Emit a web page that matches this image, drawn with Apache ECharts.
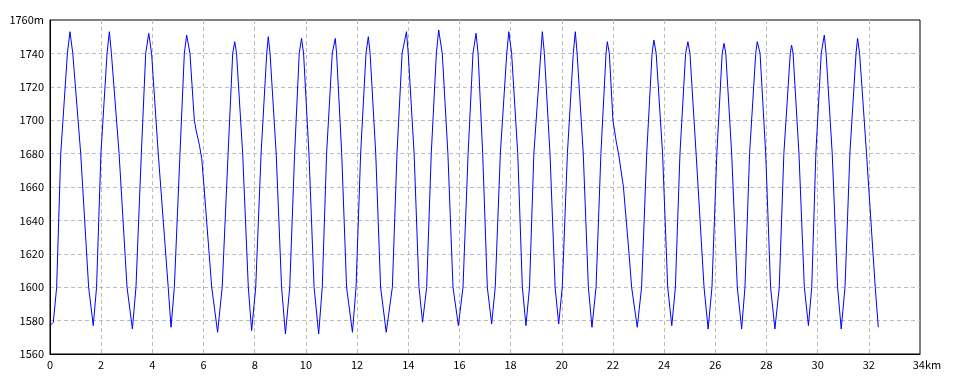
<!DOCTYPE html>
<html><head><meta charset="utf-8">
<script src="https://cdn.jsdelivr.net/npm/echarts@6/dist/echarts.min.js"></script>
<style>html,body{margin:0;padding:0;background:#fff}#c{width:960px;height:384px}</style>
</head><body><div id="c"></div>
<script>
// distance along route (km)
const distKm = [
  0, 0.05, 0.13, 0.26, 0.42, 0.68, 0.78, 0.89, 1.20, 1.51, 1.69,
  1.82, 1.99, 2.23, 2.32, 2.40, 2.70, 3.01, 3.22,
  3.36, 3.57, 3.74, 3.86, 3.97, 4.23, 4.62, 4.73,
  4.86, 5.08, 5.25, 5.34, 5.47, 5.64, 5.71, 5.84, 5.93, 6.02, 6.32, 6.55,
  6.73, 6.96, 7.14, 7.22, 7.29, 7.53, 7.75, 7.88,
  8.04, 8.25, 8.47, 8.53, 8.60, 8.84, 9.05, 9.20,
  9.37, 9.56, 9.74, 9.83, 9.91, 10.12, 10.32, 10.50,
  10.64, 10.81, 11.03, 11.15, 11.20, 11.40, 11.59, 11.82,
  11.96, 12.14, 12.35, 12.44, 12.51, 12.73, 12.92, 13.14,
  13.38, 13.56, 13.76, 13.93, 14.00, 14.23, 14.42, 14.56,
  14.72, 14.90, 15.10, 15.19, 15.33, 15.55, 15.75, 15.96,
  16.14, 16.34, 16.53, 16.65, 16.73, 16.91, 17.09, 17.26,
  17.40, 17.60, 17.85, 17.93, 18.04, 18.28, 18.46, 18.60,
  18.74, 18.91, 19.18, 19.24, 19.32, 19.54, 19.74, 19.88,
  20.02, 20.22, 20.45, 20.53, 20.60, 20.84, 21.04, 21.18,
  21.34, 21.53, 21.73, 21.78, 21.86, 22.00, 22.13, 22.22, 22.41, 22.63, 22.73, 22.95,
  23.12, 23.32, 23.53, 23.60, 23.69, 23.94, 24.14, 24.30,
  24.44, 24.62, 24.84, 24.93, 25.01, 25.25, 25.56, 25.72,
  25.87, 26.06, 26.27, 26.34, 26.41, 26.64, 26.86, 27.03,
  27.16, 27.34, 27.58, 27.64, 27.75, 27.97, 28.16, 28.33,
  28.50, 28.68, 28.93, 28.98, 29.04, 29.27, 29.48, 29.64,
  29.77, 29.93, 30.14, 30.26, 30.33, 30.57, 30.78, 30.92,
  31.07, 31.26, 31.50, 31.56, 31.64, 31.91, 32.25, 32.37];
// elevation (m)
const elevM = [
  1577, 1576, 1579, 1600, 1680, 1740, 1753, 1740, 1680, 1600, 1577,
  1600, 1680, 1740, 1753, 1740, 1680, 1600, 1575,
  1600, 1680, 1740, 1752, 1740, 1680, 1600, 1576,
  1600, 1680, 1740, 1751, 1740, 1700, 1694, 1685, 1677, 1660, 1600, 1573,
  1600, 1680, 1740, 1747, 1740, 1680, 1600, 1574,
  1600, 1680, 1740, 1750, 1740, 1680, 1600, 1572,
  1600, 1680, 1740, 1749, 1740, 1680, 1600, 1572,
  1600, 1680, 1740, 1749, 1740, 1680, 1600, 1573,
  1600, 1680, 1740, 1750, 1740, 1680, 1600, 1573,
  1600, 1680, 1740, 1753, 1740, 1680, 1600, 1579,
  1600, 1680, 1740, 1754, 1740, 1680, 1600, 1577,
  1600, 1680, 1740, 1752, 1740, 1680, 1600, 1578,
  1600, 1680, 1740, 1753, 1740, 1680, 1600, 1577,
  1600, 1680, 1740, 1753, 1740, 1680, 1600, 1578,
  1600, 1680, 1740, 1753, 1740, 1680, 1600, 1576,
  1600, 1680, 1740, 1747, 1740, 1700, 1687, 1680, 1660, 1620, 1600, 1576,
  1600, 1680, 1740, 1748, 1740, 1680, 1600, 1577,
  1600, 1680, 1740, 1747, 1740, 1680, 1600, 1575,
  1600, 1680, 1740, 1746, 1740, 1680, 1600, 1575,
  1600, 1680, 1740, 1747, 1740, 1680, 1600, 1575,
  1600, 1680, 1740, 1745, 1740, 1680, 1600, 1577,
  1600, 1680, 1740, 1751, 1740, 1680, 1600, 1575,
  1600, 1680, 1740, 1749, 1740, 1680, 1600, 1576];
const xTicks = [0, 2, 4, 6, 8, 10, 12, 14, 16, 18, 20, 22, 24, 26, 28, 30, 32, 34];
const yTicks = [1560, 1580, 1600, 1620, 1640, 1660, 1680, 1700, 1720, 1740, 1760];

const points = distKm.map((d, i) => [d, elevM[i]]);
const font = '"Noto Sans CJK JP", "DejaVu Sans", sans-serif';
const xMin = xTicks[0], xMax = xTicks[xTicks.length - 1];
const yMin = yTicks[0], yMax = yTicks[yTicks.length - 1];
const dash = {color: '#bbb', type: [4, 3], width: 1};
const chart = echarts.init(document.getElementById('c'), null, {renderer: 'canvas'});
chart.setOption({
  animation: false,
  backgroundColor: '#fff',
  grid: {left: 50, right: 40, top: 20, bottom: 30, show: true, borderColor: '#000', borderWidth: 1, backgroundColor: 'transparent'},
  xAxis: {
    type: 'value', min: xMin, max: xMax, interval: 2,
    axisLine: {show: true, onZero: false, lineStyle: {color: '#000', width: 1}},
    axisTick: {show: false},
    splitLine: {show: true, showMinLine: false, showMaxLine: false, lineStyle: dash},
    axisLabel: {
      color: '#000', fontFamily: font, fontSize: 11, margin: 5,
      formatter: v => v === 34 ? '{p|}34km' : String(v),
      rich: {p: {width: 14}}
    }
  },
  yAxis: {
    type: 'value', min: yMin, max: yMax, interval: 20,
    axisLine: {show: true, onZero: false, lineStyle: {color: '#000', width: 1}},
    axisTick: {show: false},
    splitLine: {show: true, showMinLine: false, showMaxLine: false, lineStyle: dash},
    axisLabel: {
      color: '#000', fontFamily: font, fontSize: 11, margin: 6,
      formatter: v => v === 1760 ? '1760m' : String(v)
    }
  },
  series: [{
    type: 'line', data: points, showSymbol: false, symbol: 'none',
    lineStyle: {color: '#0000ff', width: 1}, z: 5
  }]
});
</script></body></html>
